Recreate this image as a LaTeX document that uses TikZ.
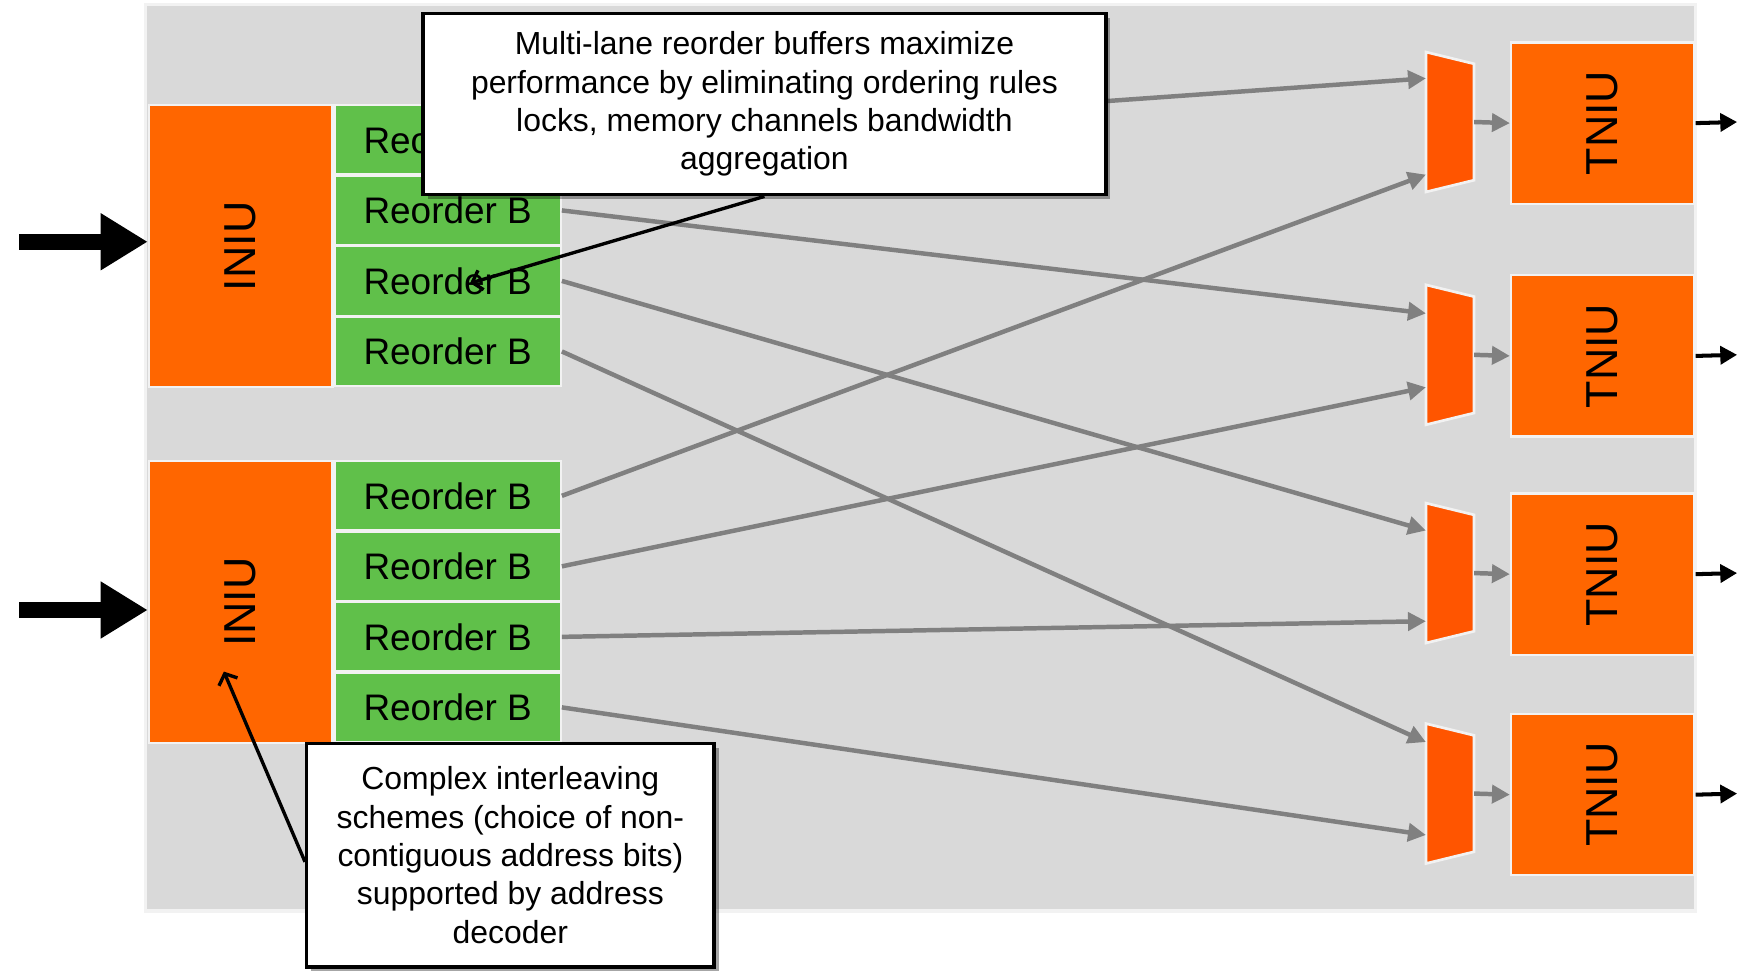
\documentclass[tikz,border=0pt]{standalone}
\usepackage{fontspec}
\setmainfont{Liberation Sans}
\setsansfont{Liberation Sans}
\usepackage{graphicx}
\usepackage{tikz}
\usetikzlibrary{positioning,arrows.meta,shadows}
\definecolor{cPanel}{HTML}{D9D9D9}
\definecolor{cEdge}{HTML}{F2F2F2}
\definecolor{cNiu}{HTML}{FF6600}
\definecolor{cMux}{HTML}{FF5500}
\definecolor{cBuf}{HTML}{60C04A}
\definecolor{cLink}{HTML}{808080}
\definecolor{cInk}{HTML}{000000}

\begin{document}
\begin{tikzpicture}[
  x=0.5pt, y=-0.5pt,
  font=\sffamily,
  panel/.style={fill=cPanel, draw=cEdge, line width=1.5pt},
  niu/.style={rectangle, draw=cEdge, line width=1pt, fill=cNiu, text=cInk, inner sep=0pt,
              minimum width=82pt, anchor=north west, font=\sffamily\fontsize{20}{24}\selectfont},
  buf/.style={rectangle, draw=cEdge, line width=1pt, fill=cBuf, text=cInk, inner sep=0pt,
              minimum width=101pt, minimum height=31pt, anchor=north west,
              font=\sffamily\fontsize{16.5}{19}\selectfont},
  mux/.style={fill=cMux, draw=cEdge, line width=1.2pt},
  note/.style={rectangle, draw=cInk, line width=1.5pt, fill=white, text=cInk, align=center,
               inner sep=0pt, font=\sffamily\fontsize{14.25}{17.15}\selectfont,
               drop shadow={shadow xshift=2pt, shadow yshift=-2pt, opacity=0.35, fill=black}},
  link/.style={-{Triangle[length=8pt,width=8pt]}, line width=2pt, draw=cLink},
  feed/.style={-{Triangle[length=21pt,width=24pt]}, line width=7pt, draw=cInk},
  emit/.style={-{Triangle[length=7.5pt,width=8pt]}, line width=1.8pt, draw=cInk},
  pointer/.style={-{Straight Barb[length=4pt,width=9pt]}, line width=1.5pt, draw=cInk},
]
\useasboundingbox (0,0) rectangle (1568,867);

% ---------- Background panel ----------
\path[panel] (130,4) rectangle (1515,814);

% ---------- Initiators and reorder buffers ----------
\node[niu, minimum height=126pt] (iniuA) at (132,93) {\rotatebox{90}{INIU}};
\node[niu, minimum height=126pt] (iniuB) at (132,411) {\rotatebox{90}{INIU}};
\foreach \i in {1,...,4} {
  \node[buf] (bufA\i) at (298,{93+63*(\i-1)}) {Reorder B};
  \node[buf] (bufB\i) at (298,{411+63*(\i-1)}) {Reorder B};
}

% ---------- Muxes and targets ----------
\foreach \i/\c/\a/\b/\t in {1/109/70/156/37, 2/317/280/346/245, 3/512/474/555/440, 4/709/663/746/637} {
  \draw[mux] (1274,{\c-62.5}) -- (1317,{\c-52}) -- (1317,{\c+52}) -- (1274,{\c+62.5}) -- cycle;
  \coordinate (m\i-a) at (1274,\a);
  \coordinate (m\i-b) at (1274,\b);
  \coordinate (m\i-o) at (1317,\c);
  \coordinate (q\i) at (1552,\c);
  \node[niu, minimum height=72pt] (tniu\i) at (1349,\t) {\rotatebox{90}{TNIU}};
}

% ---------- Arrows ----------
\coordinate (inA) at (17,216);
\coordinate (inB) at (17,545);
\draw[feed] (inA) -- (iniuA.west |- inA);
\draw[feed] (inB) -- (iniuB.west |- inB);
\foreach \i in {1,...,4} {
  \draw[link] (bufA\i.east) -- (m\i-a);
  \draw[link] (bufB\i.east) -- (m\i-b);
  \draw[link] (m\i-o) -- (tniu\i.west);
  \draw[emit] (tniu\i.east) -- (q\i);
}

% ---------- Callouts ----------
\node[note, minimum width=305pt, minimum height=81pt] (noteTop) at (683,93)
  {Multi-lane reorder buffers maximize\\
   performance by eliminating ordering rules\\
   locks, memory channels bandwidth\\
   aggregation};
\node[note, minimum width=182pt, minimum height=100pt] (noteBot) at (456,764)
  {Complex interleaving\\
   schemes (choice of non-\\
   contiguous address bits)\\
   supported by address\\
   decoder};
\coordinate (tipA) at (420,253);
\coordinate (tipB) at (200,600);
\draw[pointer] (noteTop.south) -- (tipA);
\draw[pointer] (noteBot.west |- 0,770) -- (tipB);

\end{tikzpicture}
\end{document}
